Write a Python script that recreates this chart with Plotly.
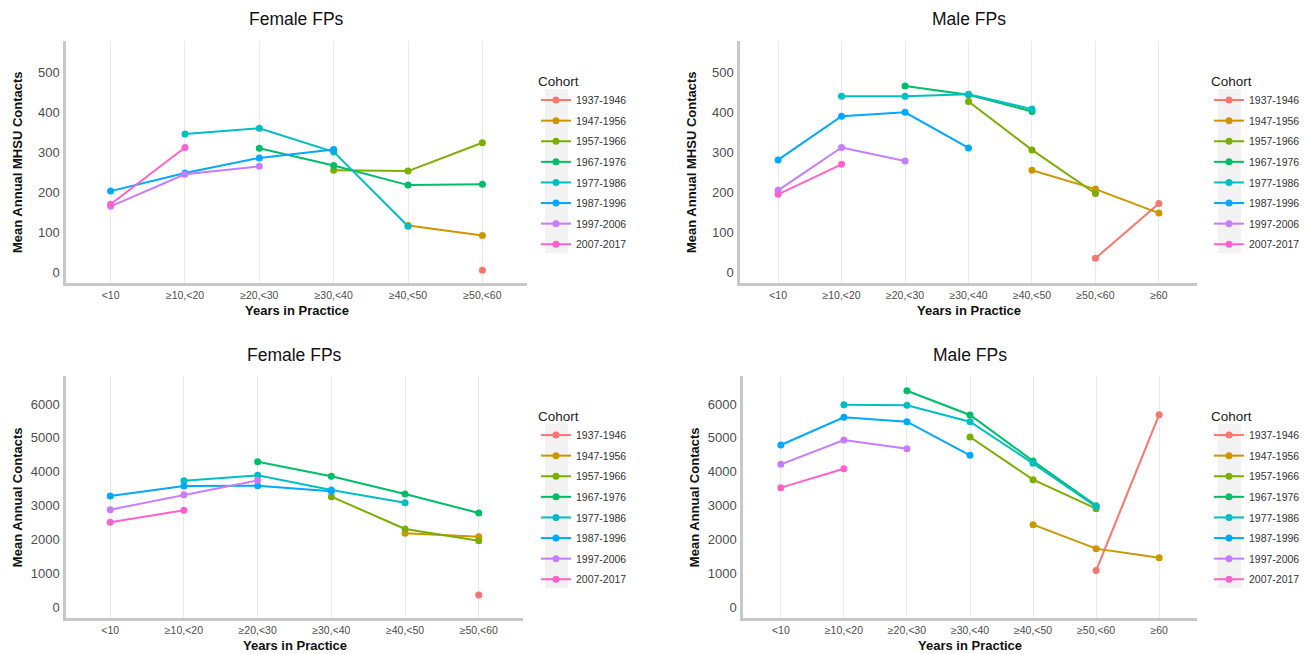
import plotly.graph_objects as go

cohorts = ["1937-1946", "1947-1956", "1957-1966", "1967-1976",
           "1977-1986", "1987-1996", "1997-2006", "2007-2017"]
colors = ["#F8766D", "#CD9600", "#7CAE00", "#00BE67",
          "#00BFC4", "#00A9FF", "#C77CFF", "#FF61CC"]

cats_f = ["<10", "\u226510,<20", "\u226520,<30", "\u226530,<40", "\u226540,<50", "\u226550,<60"]
cats_m = cats_f + ["\u226560"]

# Female, mean annual MHSU contacts (None = no data)
female_mhsu = {
    "1937-1946": [None, None, None, None, None, 5],
    "1947-1956": [None, None, None, None, 117, 92],
    "1957-1966": [None, None, None, 255, 253, 324],
    "1967-1976": [None, None, 310, 267, 218, 220],
    "1977-1986": [None, 346, 360, 301, 115, None],
    "1987-1996": [203, 248, 286, 307, None, None],
    "1997-2006": [165, 245, 265, None, None, None],
    "2007-2017": [170, 312, None, None, None, None],
}
# Male, mean annual MHSU contacts
male_mhsu = {
    "1937-1946": [None, None, None, None, None, 35, 172],
    "1947-1956": [None, None, None, None, 255, 208, 148],
    "1957-1966": [None, None, None, 427, 306, 197, None],
    "1967-1976": [None, None, 466, 444, 402, None, None],
    "1977-1986": [None, 440, 440, 445, 408, None, None],
    "1987-1996": [281, 390, 400, 311, None, None, None],
    "1997-2006": [205, 312, 278, None, None, None, None],
    "2007-2017": [195, 270, None, None, None, None, None],
}
# Female, mean annual contacts
female_all = {
    "1937-1946": [None, None, None, None, None, 364],
    "1947-1956": [None, None, None, None, 2183, 2085],
    "1957-1966": [None, None, None, 3265, 2310, 1966],
    "1967-1976": [None, None, 4297, 3864, 3343, 2783],
    "1977-1986": [None, 3736, 3894, 3461, 3087, None],
    "1987-1996": [3284, 3579, 3589, 3422, None, None],
    "1997-2006": [2881, 3323, 3746, None, None, None],
    "2007-2017": [2507, 2861, None, None, None, None],
}
# Male, mean annual contacts
male_all = {
    "1937-1946": [None, None, None, None, None, 1082, 5683],
    "1947-1956": [None, None, None, None, 2439, 1731, 1465],
    "1957-1966": [None, None, None, 5025, 3766, 2911, None],
    "1967-1976": [None, None, 6391, 5674, 4317, 2999, None],
    "1977-1986": [None, 5978, 5959, 5477, 4248, 2970, None],
    "1987-1996": [4789, 5605, 5477, 4484, None, None, None],
    "1997-2006": [4218, 4936, 4680, None, None, None, None],
    "2007-2017": [3530, 4090, None, None, None, None, None],
}

W, H = 1307, 654
FONT = "Liberation Sans, Arial, sans-serif"

panels = [
    # data, cats, x-px [left,right], y-px [top,bottom], yrange, yticks, ytitle, title, legend px (x, y-top), key box
    (female_mhsu, cats_f, (66, 527), (40.7, 283.3), [-27.5, 579], [0, 100, 200, 300, 400, 500],
     "Mean Annual MHSU Contacts", "Female FPs", (536, 68), (545, 89, 568, 253)),
    (male_mhsu, cats_m, (740, 1197), (40.7, 283.3), [-27.5, 579], [0, 100, 200, 300, 400, 500],
     "Mean Annual MHSU Contacts", "Male FPs", (1209, 68), (1218, 89, 1241, 253)),
    (female_all, cats_f, (66, 523), (376, 618.3), [-325, 6825], [0, 1000, 2000, 3000, 4000, 5000, 6000],
     "Mean Annual Contacts", "Female FPs", (536, 403), (545, 424, 568, 588)),
    (male_all, cats_m, (743, 1197), (376, 618.3), [-325, 6825], [0, 1000, 2000, 3000, 4000, 5000, 6000],
     "Mean Annual Contacts", "Male FPs", (1209, 403), (1218, 424, 1241, 588)),
]

fig = go.Figure()
layout = dict(
    width=W, height=H, margin=dict(l=0, r=0, t=0, b=0),
    paper_bgcolor="white", plot_bgcolor="white",
    font=dict(family=FONT, color="#222222"),
    annotations=[], shapes=[],
)

for i, (data, cats, xpx, ypx, yr, ytv, ytitle, title, lg, box) in enumerate(panels):
    n = i + 1
    xa = "xaxis" if n == 1 else f"xaxis{n}"
    ya = "yaxis" if n == 1 else f"yaxis{n}"
    xr = "x" if n == 1 else f"x{n}"
    yrf = "y" if n == 1 else f"y{n}"
    lgname = "legend" if n == 1 else f"legend{n}"
    xd = [xpx[0] / W, xpx[1] / W]
    yd = [1 - ypx[1] / H, 1 - ypx[0] / H]
    for c, col in zip(cohorts, colors):
        vals = data[c]
        xs = [cat for cat, v in zip(cats, vals) if v is not None]
        ys = [v for v in vals if v is not None]
        fig.add_trace(go.Scatter(
            x=xs, y=ys, name=c, mode="lines+markers", xaxis=xr, yaxis=yrf,
            line=dict(color=col, width=2), marker=dict(color=col, size=7),
            legend=lgname, legendgroup=f"{n}-{c}", showlegend=True,
        ))
    layout[xa] = dict(
        domain=xd, anchor=yrf, type="category", categoryorder="array", categoryarray=cats,
        range=[-0.6, len(cats) - 0.4], showgrid=True, gridcolor="#EBEBEB", gridwidth=1.2,
        showline=True, linecolor="#C8C8C8", linewidth=2.5, zeroline=False, ticks="",
        tickfont=dict(size=10.5, color="#4D4D4D", family=FONT), fixedrange=True,
    )
    layout[ya] = dict(
        domain=yd, anchor=xr, range=yr, tickvals=ytv, showgrid=False, zeroline=False,
        showline=True, linecolor="#C8C8C8", linewidth=2.5, ticks="",
        tickfont=dict(size=13, color="#4D4D4D", family=FONT), ticklabelstandoff=1,
    )
    layout[lgname] = dict(
        x=lg[0] / W, y=1 - lg[1] / H, xanchor="left", yanchor="top",
        bgcolor="rgba(0,0,0,0)", font=dict(size=10.5, color="#333333", family=FONT),
        title=dict(text="Cohort", font=dict(size=13.5, color="#222222", family=FONT)),
        itemwidth=30, tracegroupgap=1.6,
    )
    layout["shapes"].append(dict(
        type="rect", xref="paper", yref="paper", layer="below",
        x0=box[0] / W, x1=box[2] / W, y0=1 - box[3] / H, y1=1 - box[1] / H,
        fillcolor="#F2F2F2", line=dict(width=0),
    ))
    xc = (xd[0] + xd[1]) / 2
    layout["annotations"] += [
        dict(text=title, x=xc, y=1 - (19 if n <= 2 else 355) / H, xref="paper", yref="paper",
             showarrow=False, xanchor="center", yanchor="middle",
             font=dict(size=17.5, color="#111111", family=FONT)),
        dict(text="<b>Years in Practice</b>", x=xc, y=1 - (310 if n <= 2 else 645) / H,
             xref="paper", yref="paper", showarrow=False, xanchor="center", yanchor="middle",
             font=dict(size=13, color="#111111", family=FONT)),
        dict(text=f"<b>{ytitle}</b>", x=(xpx[0] - 49) / W, y=(yd[0] + yd[1]) / 2,
             xref="paper", yref="paper", showarrow=False, textangle=-90,
             xanchor="center", yanchor="middle",
             font=dict(size=13, color="#111111", family=FONT)),
    ]

fig.update_layout(**layout)
fig.write_html("out.html", config={"displayModeBar": False},
               post_script="document.body.style.margin='0';")
